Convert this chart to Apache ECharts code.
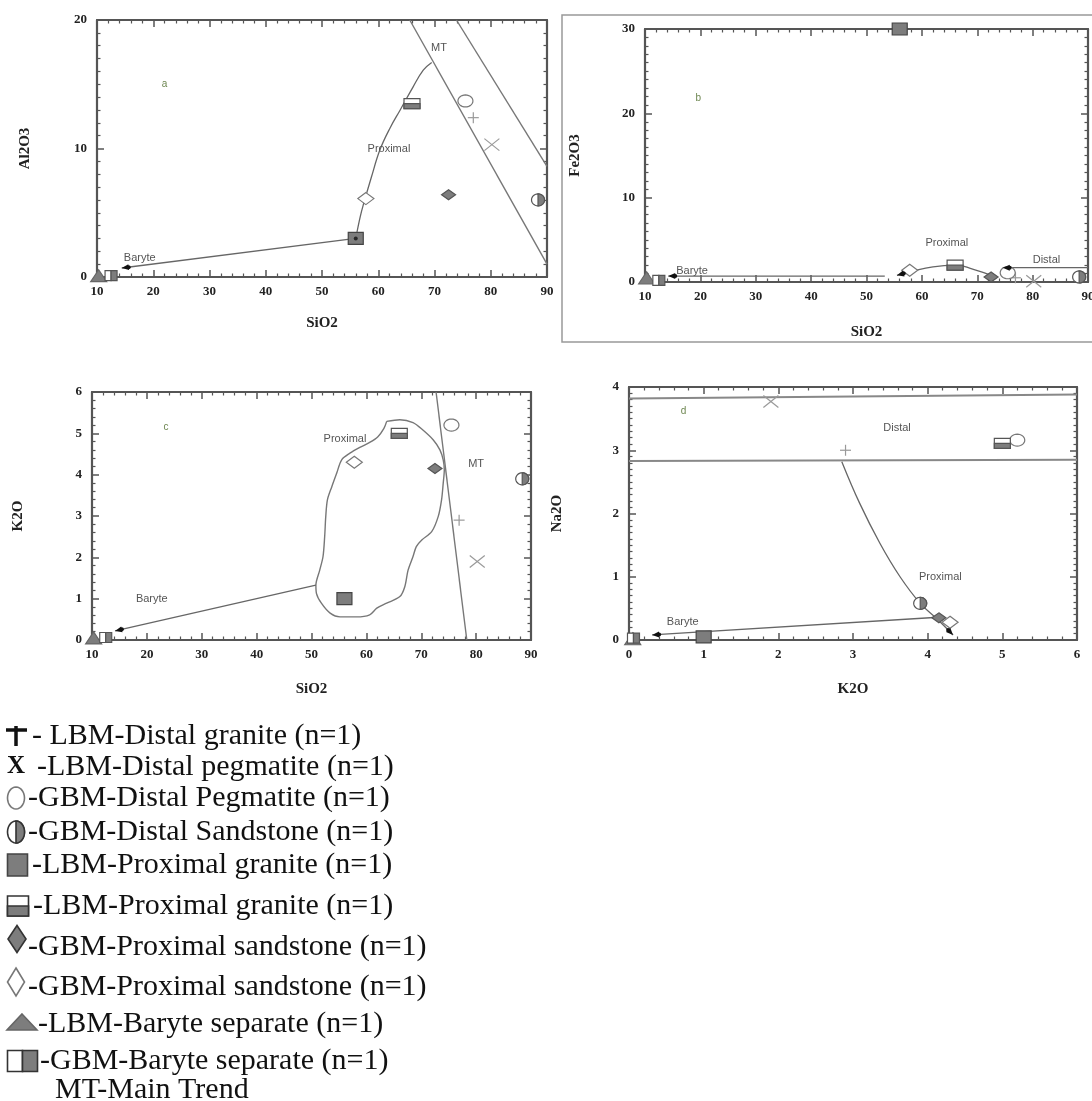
<!DOCTYPE html>
<html>
<head>
<meta charset="utf-8">
<script src="https://cdn.jsdelivr.net/npm/echarts@6/dist/echarts.min.js"></script>
<style>
  html, body { margin: 0; padding: 0; background: #fff; }
  #main { width: 1092px; height: 1101px; }
</style>
</head>
<body>
<div id="main"></div>
<script>
// sample order: same in every panel and in the key
const sampleNames = ['LBM-Distal granite', 'LBM-Distal pegmatite', 'GBM-Distal Pegmatite', 'GBM-Distal Sandstone',
  'LBM-Proximal granite', 'LBM-Proximal granite', 'GBM-Proximal sandstone', 'GBM-Proximal sandstone',
  'LBM-Baryte separate', 'GBM-Baryte separate'];
const sampleMarkers = ['plus', 'cross', 'circle', 'halfCircle', 'square', 'halfSquare', 'diamond', 'openDiamond', 'triangle', 'doubleSquare'];

const sio2  = [76.9, 80.2, 75.5, 88.4, 56.0, 66.0, 72.5, 57.8, 10.3, 12.5];
const al2o3 = [12.4, 10.3, 13.7, 6.0, 3.0, 13.5, 6.4, 6.1, 0.1, 0.1];
const fe2o3 = [0.5, 0.1, 1.1, 0.6, 30.0, 2.0, 0.6, 1.4, 0.5, 0.2];
const k2o   = [2.9, 1.9, 5.2, 3.9, 1.0, 5.0, 4.15, 4.3, 0.05, 0.06];
const na2o  = [3.0, 3.77, 3.16, 0.58, 0.05, 3.11, 0.35, 0.28, 0.02, 0.03];

// panel a: SiO2 vs Al2O3
const aProximalCurve = [[56.0, 3.0], [56.8, 4.7], [57.4, 5.7], [58.8, 7.8], [60.3, 9.9], [62.1, 11.6], [63.9, 13.0], [66.2, 14.8], [68.0, 16.1], [69.5, 16.7]];
const aBaryteLine = [[56.0, 3.0], [14.4, 0.7]];
const aMainTrend1 = [[65.6, 20], [90, 1.0]];
const aMainTrend2 = [[73.9, 20], [90, 8.6]];
const aArrows = [[14.4, 0.7, 56.0, 3.0]];
const aJunction = [[56.0, 3.0]];
const aLabels = [['a', 22, 15], ['MT', 70.8, 17.8], ['Proximal', 61.9, 10.0], ['Baryte', 17.6, 1.5]];

// panel b: SiO2 vs Fe2O3
const bBaryteLine = [[53.3, 0.7], [14.2, 0.7]];
const bProximalCurve = [[72.9, 0.7], [69.3, 1.5], [66.0, 2.0], [62.0, 1.8], [57.9, 1.2], [55.5, 0.8]];
const bDistalLine = [[90, 1.7], [74.6, 1.7]];
const bArrows = [[14.2, 0.7, 53.3, 0.7], [55.5, 0.8, 57.9, 1.2], [74.6, 1.7, 90, 1.7]];
const bLabels = [['b', 19.6, 21.8], ['Proximal', 64.5, 4.6], ['Distal', 82.5, 2.6], ['Baryte', 18.5, 1.3]];

// panel c: SiO2 vs K2O
const cMainTrend = [[72.7, 6], [78.3, 0]];
const cProximalField = [[63.7, 5.29], [66.1, 5.33], [68.5, 5.26], [70.3, 5.08], [72.2, 4.84], [73.4, 4.60], [74.0, 4.36],
  [74.2, 4.12], [74.0, 3.79], [73.7, 3.39], [73.1, 2.99], [71.9, 2.62], [70.1, 2.42], [69.1, 2.26], [68.5, 2.02],
  [67.6, 1.69], [67.0, 1.29], [66.1, 1.05], [63.7, 0.89], [61.9, 0.77], [60.6, 0.61], [58.2, 0.56], [55.2, 0.56],
  [53.4, 0.65], [51.8, 0.89], [50.9, 1.13], [50.8, 1.33], [51.5, 1.69], [52.1, 2.02], [52.4, 2.50], [52.6, 2.99],
  [52.9, 3.39], [53.7, 3.71], [54.6, 4.04], [55.5, 4.36], [57.0, 4.52], [58.8, 4.66], [60.6, 4.78], [62.1, 4.92],
  [63.2, 5.12], [63.7, 5.29]];
const cBaryteLine = [[50.8, 1.33], [14.2, 0.22]];
const cArrows = [[14.2, 0.22, 50.8, 1.33]];
const cLabels = [['c', 23.5, 5.15], ['Proximal', 56.1, 4.87], ['MT', 80.0, 4.26], ['Baryte', 20.9, 1.0]];

// panel d: K2O vs Na2O
const dDistalUpper = [[0, 3.82], [6, 3.88]];
const dDistalLower = [[0, 2.83], [6, 2.85]];
const dProximalCurve = [[2.85, 2.82], [3.09, 2.16], [3.36, 1.53], [3.63, 1.0], [3.90, 0.58], [4.12, 0.34], [4.34, 0.08]];
const dBaryteLine = [[4.14, 0.36], [0.31, 0.08]];
const dArrows = [[4.34, 0.08, 4.12, 0.34], [0.31, 0.08, 4.14, 0.36]];
const dLabels = [['d', 0.73, 3.62], ['Distal', 3.59, 3.35], ['Proximal', 4.17, 1.0], ['Baryte', 0.72, 0.28]];

const keyTexts = ['- LBM-Distal granite (n=1)', '-LBM-Distal pegmatite (n=1)', '-GBM-Distal Pegmatite (n=1)',
  '-GBM-Distal Sandstone (n=1)', '-LBM-Proximal granite (n=1)', '-LBM-Proximal granite (n=1)',
  '-GBM-Proximal sandstone (n=1)', '-GBM-Proximal sandstone (n=1)', '-LBM-Baryte separate (n=1)',
  '-GBM-Baryte separate (n=1)', 'MT-Main Trend'];

const SERIF = '"Liberation Serif", "Times New Roman", serif';
const SANS = '"Liberation Sans", Arial, sans-serif';

var chart = echarts.init(document.getElementById('main'));

const ellipsePts = (cx, cy, rx, ry, a0, a1) => {
  const pts = [];
  for (let k = 0; k <= 28; k++) {
    const t = (a0 + (a1 - a0) * k / 28) * Math.PI / 180;
    pts.push([cx + rx * Math.cos(t), cy + ry * Math.sin(t)]);
  }
  return pts;
};

// marker drawing, shared by the plots and the key
const markerShapes = (kind, cx, cy, w, h, lw, edge) => {
  const hw = w / 2, hh = h / 2;
  const gray = '#7d7d7d';
  edge = edge || '#555';
  const st = (fill, stroke) => ({ fill: fill, stroke: stroke || edge, lineWidth: lw });
  switch (kind) {
    case 'plus':
      return [
        { type: 'line', shape: { x1: cx - hw, y1: cy, x2: cx + hw, y2: cy }, style: { stroke: '#999', lineWidth: lw } },
        { type: 'line', shape: { x1: cx, y1: cy - hh, x2: cx, y2: cy + hh }, style: { stroke: '#999', lineWidth: lw } }
      ];
    case 'cross':
      return [
        { type: 'line', shape: { x1: cx - hw, y1: cy - hh, x2: cx + hw, y2: cy + hh }, style: { stroke: '#999', lineWidth: lw } },
        { type: 'line', shape: { x1: cx - hw, y1: cy + hh, x2: cx + hw, y2: cy - hh }, style: { stroke: '#999', lineWidth: lw } }
      ];
    case 'circle':
      return [{ type: 'polygon', shape: { points: ellipsePts(cx, cy, hw, hh, 0, 360) }, style: st('#fff', '#777') }];
    case 'halfCircle':
      return [
        { type: 'polygon', shape: { points: ellipsePts(cx, cy, hw, hh, 0, 360) }, style: st('#fff') },
        { type: 'polygon', shape: { points: ellipsePts(cx, cy, hw, hh, -90, 90) }, style: st(gray) }
      ];
    case 'square':
      return [{ type: 'rect', shape: { x: cx - hw, y: cy - hh, width: w, height: h }, style: st(gray, '#444') }];
    case 'halfSquare':
      return [
        { type: 'rect', shape: { x: cx - hw, y: cy - hh, width: w, height: h }, style: st('#fff') },
        { type: 'rect', shape: { x: cx - hw, y: cy, width: w, height: hh }, style: st(gray) }
      ];
    case 'diamond':
      return [{ type: 'polygon', shape: { points: [[cx, cy - hh], [cx + hw, cy], [cx, cy + hh], [cx - hw, cy]] }, style: st(gray) }];
    case 'openDiamond':
      return [{ type: 'polygon', shape: { points: [[cx, cy - hh], [cx + hw, cy], [cx, cy + hh], [cx - hw, cy]] }, style: st('#fff', '#777') }];
    case 'triangle':
      return [{ type: 'polygon', shape: { points: [[cx, cy - hh], [cx + hw, cy + hh], [cx - hw, cy + hh]] }, style: st(gray, '#666') }];
    case 'doubleSquare':
      return [
        { type: 'rect', shape: { x: cx - hw, y: cy - hh, width: hw, height: h }, style: st('#fff') },
        { type: 'rect', shape: { x: cx, y: cy - hh, width: hw, height: h }, style: st(gray) }
      ];
  }
  return [];
};

const markerSize = {
  plus: [11, 11], cross: [15, 12], circle: [15, 12], halfCircle: [13, 12], square: [15, 12],
  halfSquare: [16, 10], diamond: [14, 10], openDiamond: [16, 12], triangle: [16, 12], doubleSquare: [12, 10]
};

const axisLine = { show: true, onZero: false, lineStyle: { color: '#555', width: 2.2 } };
const axisTick = { show: true, inside: true, length: 7, lineStyle: { color: '#555', width: 1.5 } };
const tickLabel = { color: '#222', fontFamily: SERIF, fontWeight: 'bold', fontSize: 13 };
const nameStyle = { color: '#222', fontFamily: SERIF, fontWeight: 'bold', fontSize: 15 };

const xAxes = (grid, min, max, interval, minor, name, gap) => [
  {
    gridIndex: grid, type: 'value', position: 'bottom', min: min, max: max, interval: interval,
    name: name, nameLocation: 'middle', nameGap: gap, nameTextStyle: nameStyle,
    axisLine: axisLine, axisTick: axisTick,
    minorTick: { show: true, splitNumber: minor, length: 3.5, lineStyle: { color: '#555', width: 1.2 } },
    axisLabel: Object.assign({ margin: 8 }, tickLabel), splitLine: { show: false }
  },
  {
    gridIndex: grid, type: 'value', position: 'top', min: min, max: max, interval: interval,
    axisLine: axisLine, axisTick: axisTick,
    minorTick: { show: true, splitNumber: minor, length: 3.5, lineStyle: { color: '#555', width: 1.2 } },
    axisLabel: { show: false }, splitLine: { show: false }
  }
];

const yAxes = (grid, min, max, interval, minor, name, gap) => [
  {
    gridIndex: grid, type: 'value', position: 'left', min: min, max: max, interval: interval,
    name: name, nameLocation: 'middle', nameGap: gap, nameTextStyle: nameStyle,
    axisLine: axisLine, axisTick: axisTick,
    minorTick: { show: true, splitNumber: minor, length: 3.5, lineStyle: { color: '#555', width: 1.2 } },
    axisLabel: Object.assign({ margin: 10 }, tickLabel), splitLine: { show: false }
  },
  {
    gridIndex: grid, type: 'value', position: 'right', min: min, max: max, interval: interval,
    axisLine: axisLine, axisTick: axisTick,
    minorTick: { show: true, splitNumber: minor, length: 3.5, lineStyle: { color: '#555', width: 1.2 } },
    axisLabel: { show: false }, splitLine: { show: false }
  }
];

const lineSeries = (grid, data, extra) => Object.assign({
  type: 'line', xAxisIndex: 2 * grid, yAxisIndex: 2 * grid, data: data, symbol: 'none',
  silent: true, lineStyle: { color: '#666', width: 1.3 }, z: 3
}, extra || {});

const arrowSeries = (grid, arrows) => ({
  type: 'custom', xAxisIndex: 2 * grid, yAxisIndex: 2 * grid, data: arrows, silent: true, z: 5,
  renderItem: (params, api) => {
    const tip = api.coord([api.value(0), api.value(1)]);
    const from = api.coord([api.value(2), api.value(3)]);
    const ang = Math.atan2(tip[1] - from[1], tip[0] - from[0]);
    const bx = tip[0] - 7 * Math.cos(ang), by = tip[1] - 7 * Math.sin(ang);
    const nx = -Math.sin(ang) * 3, ny = Math.cos(ang) * 3;
    return {
      type: 'group', children: [
        { type: 'polygon', shape: { points: [tip, [bx + nx, by + ny], [bx - nx, by - ny]] }, style: { fill: '#111' } },
        { type: 'circle', shape: { cx: bx, cy: by, r: 2 }, style: { fill: '#111' } }
      ]
    };
  }
});

const markerSeries = (grid, xs, ys) => ({
  type: 'custom', xAxisIndex: 2 * grid, yAxisIndex: 2 * grid, silent: true, z: 4,
  data: xs.map((x, i) => [x, ys[i], i]),
  renderItem: (params, api) => {
    const p = api.coord([api.value(0), api.value(1)]);
    const kind = sampleMarkers[api.value(2)];
    const s = markerSize[kind];
    return { type: 'group', children: markerShapes(kind, p[0], p[1], s[0], s[1], 1.2) };
  }
});

const labelSeries = (grid, labels) => ({
  type: 'custom', xAxisIndex: 2 * grid, yAxisIndex: 2 * grid, silent: true, z: 6,
  data: labels.map((l) => [l[1], l[2]]),
  renderItem: (params, api) => {
    const p = api.coord([api.value(0), api.value(1)]);
    const txt = labels[params.dataIndex][0];
    const isTag = txt.length === 1;
    return {
      type: 'text', x: p[0], y: p[1],
      style: {
        text: txt, align: 'center', verticalAlign: 'middle',
        fontFamily: SANS, fontSize: isTag ? 10 : 11, fill: isTag ? '#6d8650' : '#555'
      }
    };
  }
});

// key below the plots
const keyRowsY = [736, 767, 798, 832, 865, 906, 947, 987, 1024, 1061, 1090];
const keyTextX = [32, 37, 28, 28, 32, 33, 28, 28, 38, 40, 55];
const keyGraphics = [];
keyTexts.forEach((t, i) => {
  keyGraphics.push({
    type: 'text', x: keyTextX[i], y: keyRowsY[i],
    style: { text: t, fontFamily: SERIF, fontSize: 30, fill: '#111', verticalAlign: 'middle' }
  });
});
keyGraphics.push(
  { type: 'line', shape: { x1: 6, y1: 730, x2: 27, y2: 730 }, style: { stroke: '#111', lineWidth: 3.5 } },
  { type: 'line', shape: { x1: 16, y1: 726, x2: 16, y2: 746 }, style: { stroke: '#111', lineWidth: 3.5 } },
  { type: 'text', x: 16, y: 767, style: { text: 'X', fontFamily: SERIF, fontWeight: 'bold', fontSize: 25, fill: '#111', align: 'center', verticalAlign: 'middle' } }
);
const keyShapes = [
  ['circle', 16, 798, 17, 22], ['halfCircle', 16, 832, 17, 22], ['square', 17.5, 865, 20, 22],
  ['halfSquare', 18, 906, 21, 20], ['diamond', 17, 939, 18, 27], ['openDiamond', 16, 982, 17, 28],
  ['triangle', 22, 1022, 30, 16], ['doubleSquare', 22.5, 1061, 30, 21]
];
keyShapes.forEach((k) => {
  markerShapes(k[0], k[1], k[2], k[3], k[4], 1.6, '#333').forEach((el) => keyGraphics.push(el));
});
keyGraphics.push({
  type: 'rect', z: -1, shape: { x: 562, y: 15, width: 540, height: 327 },
  style: { fill: 'none', stroke: '#999', lineWidth: 1.5 }
});

var option = {
  animation: false,
  backgroundColor: '#fff',
  grid: [
    { left: 97, top: 20, width: 450, height: 257, outerBoundsMode: 'none' },
    { left: 645, top: 29, width: 443, height: 253, outerBoundsMode: 'none' },
    { left: 92, top: 392, width: 439, height: 248, outerBoundsMode: 'none' },
    { left: 629, top: 387, width: 448, height: 253, outerBoundsMode: 'none' }
  ],
  xAxis: [].concat(
    xAxes(0, 10, 90, 10, 5, 'SiO2', 39),
    xAxes(1, 10, 90, 10, 5, 'SiO2', 43),
    xAxes(2, 10, 90, 10, 5, 'SiO2', 42),
    xAxes(3, 0, 6, 1, 5, 'K2O', 42)
  ),
  yAxis: [].concat(
    yAxes(0, 0, 20, 10, 10, 'Al2O3', 64),
    yAxes(1, 0, 30, 10, 10, 'Fe2O3', 62),
    yAxes(2, 0, 6, 1, 5, 'K2O', 66),
    yAxes(3, 0, 4, 1, 10, 'Na2O', 64)
  ),
  graphic: keyGraphics,
  series: [
    lineSeries(0, aProximalCurve, { smooth: 0.4 }),
    lineSeries(0, aBaryteLine),
    lineSeries(0, aMainTrend1, { lineStyle: { color: '#777', width: 1.4 } }),
    lineSeries(0, aMainTrend2, { lineStyle: { color: '#777', width: 1.4 } }),
    markerSeries(0, sio2, al2o3),
    arrowSeries(0, aArrows),
    { type: 'scatter', xAxisIndex: 0, yAxisIndex: 0, data: aJunction, symbolSize: 4, itemStyle: { color: '#111' }, silent: true, z: 6 },
    labelSeries(0, aLabels),

    lineSeries(1, bBaryteLine),
    lineSeries(1, bProximalCurve, { smooth: 0.5 }),
    lineSeries(1, bDistalLine),
    markerSeries(1, sio2, fe2o3),
    arrowSeries(1, bArrows),
    labelSeries(1, bLabels),

    lineSeries(2, cMainTrend, { lineStyle: { color: '#777', width: 1.4 } }),
    lineSeries(2, cProximalField, { smooth: 0.3, lineStyle: { color: '#777', width: 1.4 } }),
    lineSeries(2, cBaryteLine),
    markerSeries(2, sio2, k2o),
    arrowSeries(2, cArrows),
    labelSeries(2, cLabels),

    lineSeries(3, dDistalUpper, { lineStyle: { color: '#888', width: 2 } }),
    lineSeries(3, dDistalLower, { lineStyle: { color: '#888', width: 2 } }),
    lineSeries(3, dProximalCurve, { smooth: 0.4 }),
    lineSeries(3, dBaryteLine),
    markerSeries(3, k2o, na2o),
    arrowSeries(3, dArrows),
    labelSeries(3, dLabels)
  ]
};

chart.setOption(option);
</script>
</body>
</html>
